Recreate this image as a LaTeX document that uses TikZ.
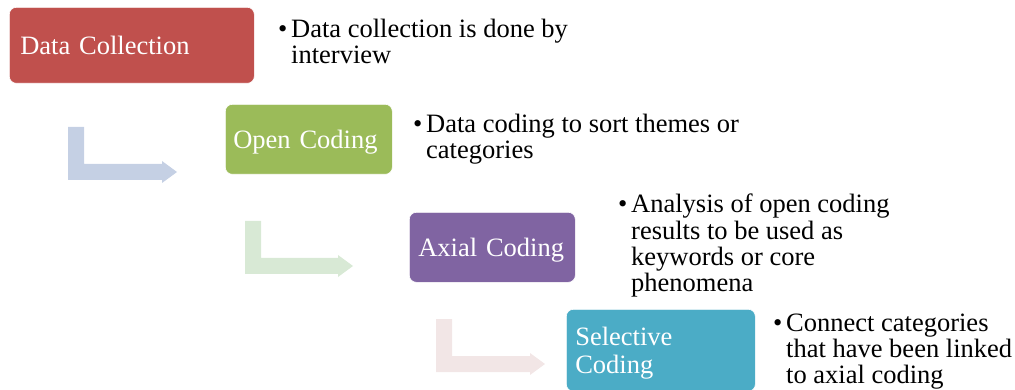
\documentclass[tikz,border=0pt]{standalone}
\usepackage{fontspec}
\setmainfont{Liberation Serif}
\definecolor{cRed}{HTML}{C0504D}
\definecolor{cGreen}{HTML}{9BBB59}
\definecolor{cPurple}{HTML}{8064A2}
\definecolor{cTeal}{HTML}{4BACC6}
\definecolor{aBlue}{RGB}{197,208,228}
\definecolor{aGreen}{RGB}{216,233,213}
\definecolor{aPink}{RGB}{242,230,230}
\tikzset{
  stagebox/.style={rectangle, rounded corners=7pt, draw=white, line width=0.6pt,
    text=white, font=\fontsize{26.5}{28}\selectfont, align=left,
    inner ysep=0pt, anchor=north west, text depth=0pt},
  bullettext/.style={inner sep=0pt, anchor=base west, text=black,
    font=\fontsize{26.5}{25.8}\selectfont},
}
\newcommand{\bul}{\makebox[13pt][l]{\textbullet}}
\newcommand{\ind}{\hspace*{13pt}}
\begin{document}
\begin{tikzpicture}[x=1pt,y=-1pt]
\useasboundingbox (0,0) rectangle (1015,390);
% bent arrows
\fill[aBlue] (68,127) -- (84,127) -- (84,164) -- (162,164) -- (162,161) -- (177,172)
  -- (162,183) -- (162,180) -- (68,180) -- cycle;
\fill[aGreen] (245,221) -- (261,221) -- (261,258) -- (338,258) -- (338,255) -- (353,266)
  -- (338,277) -- (338,274) -- (245,274) -- cycle;
\fill[aPink] (436,319) -- (452,319) -- (452,356) -- (530,356) -- (530,353) -- (545,364)
  -- (530,375) -- (530,372) -- (436,372) -- cycle;
% stage boxes
\node[stagebox, fill=cRed, inner xsep=11pt, text width=223pt, minimum height=76pt]
  (dc) at (9,7) {Data Collection};
\node[stagebox, fill=cGreen, inner xsep=8pt, text width=151pt, minimum height=70pt]
  (oc) at (225,104) {Open Coding};
\node[stagebox, fill=cPurple, inner xsep=9pt, text width=148pt, minimum height=70pt]
  (ac) at (409,212) {Axial Coding};
\node[stagebox, fill=cTeal, inner xsep=9pt, text width=171pt, minimum height=82pt,
  text depth=28pt]
  (sc) at (566,309) {Selective\\Coding};
% bullet texts
\node[bullettext] (t1) at (278,38) {\begin{tabular}[t]{@{}l@{}}\bul Data collection is done by\\\ind interview\end{tabular}};
\node[bullettext] (t2) at (413,133) {\begin{tabular}[t]{@{}l@{}}\bul Data coding to sort themes or\\\ind categories\end{tabular}};
\node[bullettext] (t3) at (618,213) {\begin{tabular}[t]{@{}l@{}}\bul Analysis of open coding\\\ind results to be used as\\\ind keywords or core\\\ind phenomena\end{tabular}};
\node[bullettext] (t4) at (773,331) {\begin{tabular}[t]{@{}l@{}}\bul Connect categories\\\ind that have been linked\\\ind to axial coding\end{tabular}};
\end{tikzpicture}
\end{document}
